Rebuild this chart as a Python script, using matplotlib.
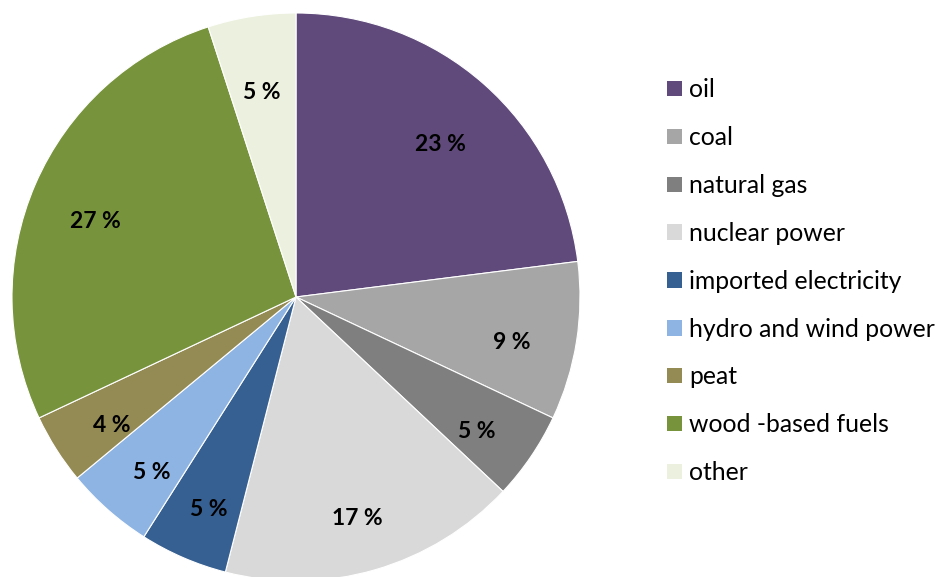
import matplotlib
matplotlib.use("Agg")
import matplotlib.pyplot as plt

categories = ["oil", "coal", "natural gas", "nuclear power", "imported electricity",
              "hydro and wind power", "peat", "wood -based fuels", "other"]
values = [23, 9, 5, 17, 5, 5, 4, 27, 5]
colors = ["#604A7B", "#A6A6A6", "#7F7F7F", "#D9D9D9", "#376092",
          "#8EB4E3", "#948A54", "#77933C", "#EBF1DE"]

plt.rcParams['font.family'] = ['Lato', 'DejaVu Sans']

W, H = 935, 577
fig = plt.figure(figsize=(W/100, H/100), dpi=100)
cx, cy, r = 296, 297, 284
ax = fig.add_axes([(cx - r)/W, (H - cy - r)/H, 2*r/W, 2*r/H])
wedges, texts = ax.pie(values, colors=colors, startangle=90, counterclock=False,
                       radius=1.0,
                       wedgeprops=dict(edgecolor="white", linewidth=0.8),
                       labels=[f"{v} %" for v in values], labeldistance=0.77,
                       textprops=dict(fontsize=16.5, fontweight="bold", color="black",
                                      ha="center", va="center"))
for t in texts:
    t.set_ha("center")
    x, y = t.get_position()
    t.set_position((x, y - 0.04))
ax.set_xlim(-1, 1)
ax.set_ylim(-1, 1)
ax.set_aspect("equal")

leg = fig.legend(wedges, categories, loc="upper left",
                 bbox_to_anchor=(655/W, 1 - 66/H), frameon=False,
                 fontsize=17.8, handlelength=0.58, handleheight=0.58,
                 handletextpad=0.3, labelspacing=1.005, borderpad=0)
for h in leg.legend_handles:
    h.set_edgecolor("none")

fig.savefig("out.png", dpi=100)
